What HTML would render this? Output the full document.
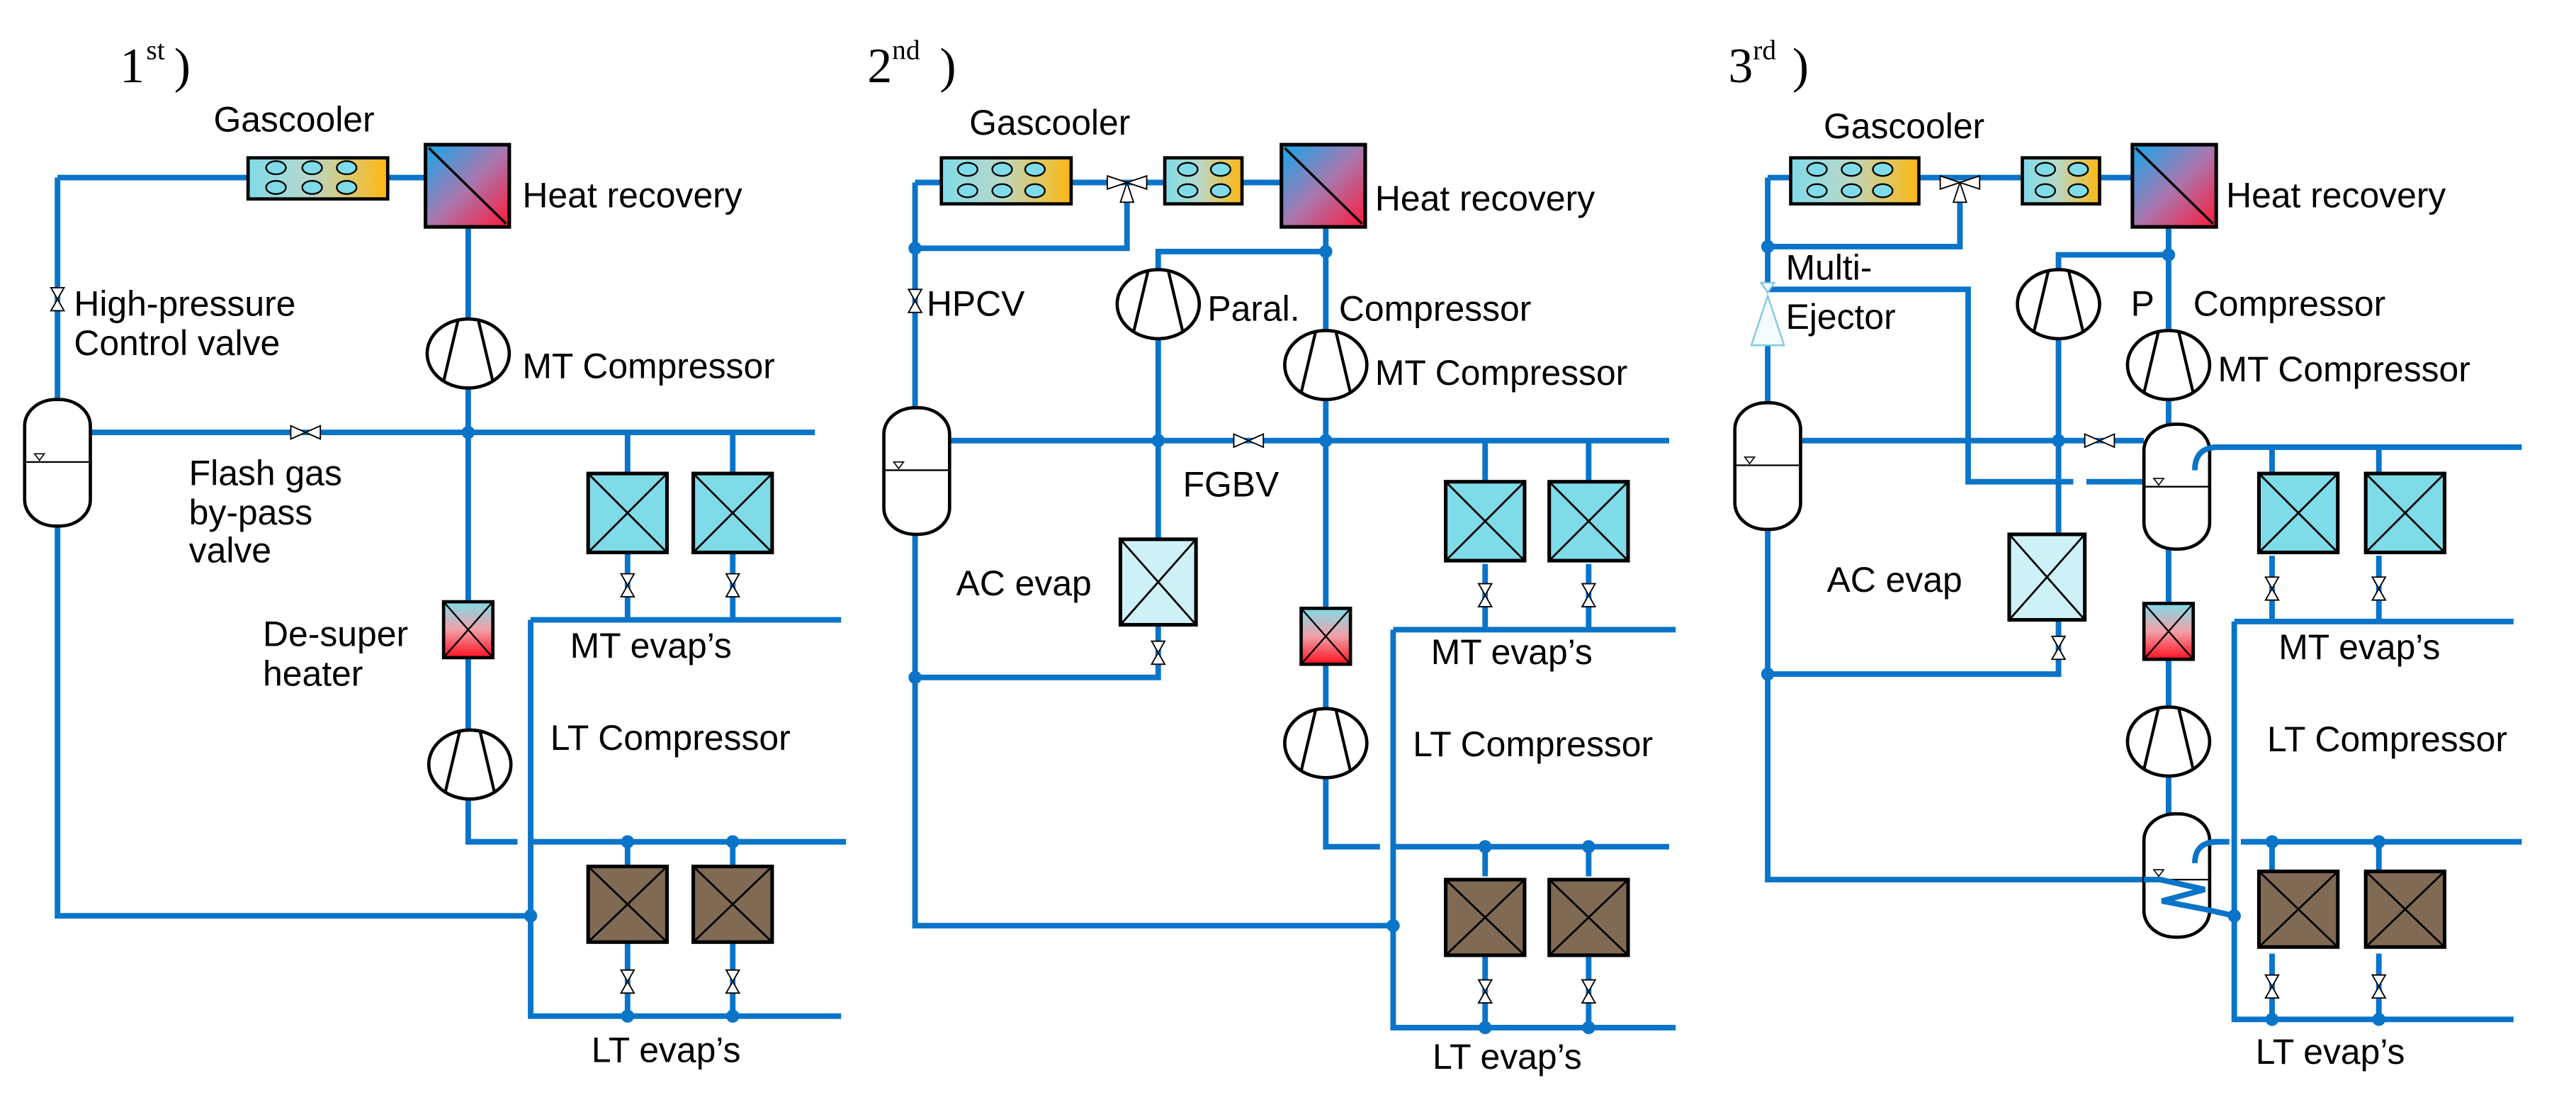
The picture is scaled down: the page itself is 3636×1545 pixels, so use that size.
<!DOCTYPE html>
<html><head><meta charset="utf-8"><style>
html,body{margin:0;padding:0;background:#fff;}
svg{display:block;}
text{font-family:"Liberation Sans",sans-serif;font-size:21.5px;fill:#000;}
.t{font-family:"Liberation Serif",serif;font-size:30px;}
.p{fill:none;stroke:#0a74c9;stroke-width:3.4;}
</style></head><body>
<svg width="3636" height="1545" viewBox="0 0 1568 666" preserveAspectRatio="none" xmlns="http://www.w3.org/2000/svg">
<defs>
<linearGradient id="gc" x1="0" y1="0" x2="1" y2="0"><stop offset="0" stop-color="#7fdbe8"/><stop offset="0.45" stop-color="#b8d8c8"/><stop offset="1" stop-color="#ffb70f"/></linearGradient>
<linearGradient id="hr" x1="0" y1="0" x2="1" y2="1"><stop offset="0" stop-color="#12a8ec"/><stop offset="0.5" stop-color="#a878b0"/><stop offset="1" stop-color="#ff1838"/></linearGradient>
<linearGradient id="ds" x1="0" y1="0" x2="0" y2="1"><stop offset="0" stop-color="#7fdbe8"/><stop offset="0.5" stop-color="#f0a0a8"/><stop offset="1" stop-color="#ff1020"/></linearGradient>
<g id="comp"><ellipse cx="0" cy="0" rx="25" ry="21" fill="#fff" stroke="#000" stroke-width="2"/><path d="M-15,17 L-6,-21 M15,17 L6,-21" stroke="#000" stroke-width="1.8" fill="none"/></g>
<g id="vv"><path d="M-4,-7 L4,-7 L-4,7 L4,7 Z" fill="#fff" stroke="#000" stroke-width="0.8"/></g>
<g id="vh"><path d="M-9,-4 L-9,4 L9,-4 L9,4 Z" fill="#fff" stroke="#000" stroke-width="0.8"/></g>
<g id="rec"><rect x="-20" y="0" width="40" height="77" rx="19" ry="16" fill="#fff" stroke="#000" stroke-width="2"/><line x1="-19" y1="38" x2="19" y2="38" stroke="#000" stroke-width="1"/><path d="M-14,33 L-8,33 L-11,37 Z" fill="#fff" stroke="#000" stroke-width="0.7"/></g>
<g id="mte"><rect x="0" y="0" width="48" height="48" fill="#7fdbe8" stroke="#000" stroke-width="2.2"/><path d="M0,0 L48,48 M48,0 L0,48" stroke="#000" stroke-width="1.2"/></g>
<g id="lte"><rect x="0" y="0" width="48" height="46" fill="#806a54" stroke="#000" stroke-width="2.2"/><path d="M0,0 L48,46 M48,0 L0,46" stroke="#000" stroke-width="1.2"/></g>
<g id="ace"><rect x="0" y="0" width="46" height="52" fill="#cdf1f6" stroke="#000" stroke-width="2.2"/><path d="M0,0 L46,52 M46,0 L0,52" stroke="#000" stroke-width="1.2"/></g>
<g id="dsh"><rect x="0" y="0" width="30" height="34" fill="url(#ds)" stroke="#000" stroke-width="2"/><path d="M0,0 L30,34 M30,0 L0,34" stroke="#000" stroke-width="1"/></g>
<g id="hrx"><rect x="0" y="0" width="51" height="50" fill="url(#hr)" stroke="#000" stroke-width="2.2"/><path d="M2,2 L49,48" stroke="#000" stroke-width="1.5"/></g>
<g id="dot"><circle r="4" fill="#0a74c9"/></g>
<g id="v3"><path d="M-12,-4 L-12,4 L12,-4 L12,4 Z M-4,12 L4,12 L0,0 Z" fill="#fff" stroke="#000" stroke-width="0.8"/></g>
</defs>

<!-- ================= PANEL 1 ================= -->
<text class="t" x="73" y="50">1</text><text class="t" x="89" y="36" style="font-size:17px">st</text><text class="t" x="106" y="50">)</text>
<path class="p" d="M35,108 H151 M236,108 H259 M285,138 V196 M285,234 V365 M285,400 V446 M285,484 V512 H315 M323,512 H515 M35,108 V243 M35,320 V557 H323 M55,263 H496 M382,263 V288 M446,263 V288 M382,336 V377 M446,336 V377 M323,377 H512 M323,377 V618 H512 M382,512 V527 M446,512 V527 M382,573 V618 M446,573 V618"/>
<rect x="151" y="96" width="85" height="25" fill="url(#gc)" stroke="#000" stroke-width="2"/>
<g fill="#7fdbe8" stroke="#000" stroke-width="1"><ellipse cx="168" cy="102" rx="6" ry="4"/><ellipse cx="190" cy="102" rx="6" ry="4"/><ellipse cx="211" cy="102" rx="6" ry="4"/><ellipse cx="168" cy="114" rx="6" ry="4"/><ellipse cx="190" cy="114" rx="6" ry="4"/><ellipse cx="211" cy="114" rx="6" ry="4"/></g>
<use href="#hrx" x="259" y="88"/>
<use href="#comp" x="285" y="215"/><use href="#comp" x="286" y="465"/>
<use href="#dsh" x="270" y="366"/>
<use href="#rec" x="35" y="243"/>
<use href="#vv" x="35" y="182"/><use href="#vh" x="186" y="263"/>
<use href="#mte" x="358" y="288"/><use href="#mte" x="422" y="288"/>
<use href="#lte" x="358" y="527"/><use href="#lte" x="422" y="527"/>
<use href="#vv" x="382" y="356"/><use href="#vv" x="446" y="356"/><use href="#vv" x="382" y="597"/><use href="#vv" x="446" y="597"/>
<use href="#dot" x="285" y="263"/><use href="#dot" x="323" y="557"/><use href="#dot" x="382" y="512"/><use href="#dot" x="446" y="512"/><use href="#dot" x="382" y="618"/><use href="#dot" x="446" y="618"/>
<text x="130" y="80">Gascooler</text>
<text x="318" y="126">Heat recovery</text>
<text x="45" y="192">High-pressure</text><text x="45" y="216">Control valve</text>
<text x="318" y="230">MT Compressor</text>
<text x="115" y="295">Flash gas</text><text x="115" y="319">by-pass</text><text x="115" y="342">valve</text>
<text x="160" y="393">De-super</text><text x="160" y="417">heater</text>
<text x="347" y="400">MT evap’s</text>
<text x="335" y="456">LT Compressor</text>
<text x="360" y="646">LT evap’s</text>

<!-- ================= PANEL 2 ================= -->
<text class="t" x="528" y="50">2</text><text class="t" x="543" y="36" style="font-size:17px">nd</text><text class="t" x="572" y="50">)</text>
<path class="p" d="M557,111 H573 M652,111 H709 M756,111 H780 M557,111 V248 M557,325 V563 H848 M557,151 H686 V120 M578,268 H1016 M705,204 V328 M705,380 V412 H557 M705,166 V153 H807 M807,136 V203 M807,241 V370 M807,404 V433 M807,471 V515 H840 M848,515 H1016 M848,383 H1020 M848,383 V625 H1020 M904,268 V293 M967,268 V293 M904,343 V383 M967,343 V383 M904,515 V533 M967,515 V533 M904,582 V625 M967,582 V625"/>
<rect x="573" y="96" width="79" height="28" fill="url(#gc)" stroke="#000" stroke-width="2"/>
<g fill="#7fdbe8" stroke="#000" stroke-width="1"><ellipse cx="589" cy="103" rx="6" ry="4"/><ellipse cx="610" cy="103" rx="6" ry="4"/><ellipse cx="630" cy="103" rx="6" ry="4"/><ellipse cx="589" cy="116" rx="6" ry="4"/><ellipse cx="610" cy="116" rx="6" ry="4"/><ellipse cx="630" cy="116" rx="6" ry="4"/></g>
<rect x="709" y="96" width="47" height="28" fill="url(#gc)" stroke="#000" stroke-width="2"/>
<g fill="#7fdbe8" stroke="#000" stroke-width="1"><ellipse cx="723" cy="103" rx="6" ry="4"/><ellipse cx="743" cy="103" rx="6" ry="4"/><ellipse cx="723" cy="116" rx="6" ry="4"/><ellipse cx="743" cy="116" rx="6" ry="4"/></g>
<use href="#hrx" x="780" y="88"/>
<use href="#v3" x="686" y="111"/>
<use href="#comp" x="705" y="185"/><use href="#comp" x="807" y="222"/><use href="#comp" x="807" y="452"/>
<use href="#dsh" x="792" y="370"/>
<use href="#rec" x="558" y="248"/>
<use href="#ace" x="682" y="328"/>
<use href="#vv" x="557" y="183"/><use href="#vh" x="760" y="268"/><use href="#vv" x="705" y="397"/>
<use href="#mte" x="880" y="293"/><use href="#mte" x="943" y="293"/>
<use href="#lte" x="880" y="535"/><use href="#lte" x="943" y="535"/>
<use href="#vv" x="904" y="362"/><use href="#vv" x="967" y="362"/><use href="#vv" x="904" y="603"/><use href="#vv" x="967" y="603"/>
<use href="#dot" x="557" y="151"/><use href="#dot" x="807" y="153"/><use href="#dot" x="705" y="268"/><use href="#dot" x="807" y="268"/><use href="#dot" x="557" y="412"/><use href="#dot" x="848" y="563"/><use href="#dot" x="904" y="515"/><use href="#dot" x="967" y="515"/><use href="#dot" x="904" y="625"/><use href="#dot" x="967" y="625"/>
<text x="590" y="82">Gascooler</text>
<text x="837" y="128">Heat recovery</text>
<text x="564" y="192">HPCV</text>
<text x="735" y="195">Paral.</text><text x="815" y="195">Compressor</text>
<text x="837" y="234">MT Compressor</text>
<text x="720" y="302">FGBV</text>
<text x="582" y="362">AC evap</text>
<text x="871" y="404">MT evap’s</text>
<text x="860" y="460">LT Compressor</text>
<text x="872" y="650">LT evap’s</text>

<!-- ================= PANEL 3 ================= -->
<text class="t" x="1052" y="50">3</text><text class="t" x="1067" y="36" style="font-size:17px">rd</text><text class="t" x="1091" y="50">)</text>
<path class="p" d="M1076,108 H1090 M1168,108 H1231 M1278,108 H1300 M1076,108 V176 M1076,210 V245 M1076,322 V535 H1315 M1076,150 H1193 V118 M1076,176 H1198 V293 H1262 M1270,293 H1305 M1096,268 H1305 M1253,204 V325 M1253,375 V410 H1076 M1253,166 V155 H1320 M1320,136 V203 M1320,241 V258 M1320,333 V367 M1320,400 V432 M1320,470 V495 M1336,286 Q1336,272 1350,272 H1535 M1360,378 H1530 M1360,378 V620 H1530 M1336,525 Q1336,512 1350,512 H1357 M1364,512 H1535 M1383,272 V288 M1448,272 V288 M1383,338 V378 M1448,338 V378 M1383,512 V530 M1448,512 V530 M1383,580 V620 M1448,580 V620"/>
<rect x="1090" y="96" width="78" height="28" fill="url(#gc)" stroke="#000" stroke-width="2"/>
<g fill="#7fdbe8" stroke="#000" stroke-width="1"><ellipse cx="1106" cy="103" rx="6" ry="4"/><ellipse cx="1127" cy="103" rx="6" ry="4"/><ellipse cx="1146" cy="103" rx="6" ry="4"/><ellipse cx="1106" cy="116" rx="6" ry="4"/><ellipse cx="1127" cy="116" rx="6" ry="4"/><ellipse cx="1146" cy="116" rx="6" ry="4"/></g>
<rect x="1231" y="96" width="47" height="28" fill="url(#gc)" stroke="#000" stroke-width="2"/>
<g fill="#7fdbe8" stroke="#000" stroke-width="1"><ellipse cx="1245" cy="103" rx="6" ry="4"/><ellipse cx="1265" cy="103" rx="6" ry="4"/><ellipse cx="1245" cy="116" rx="6" ry="4"/><ellipse cx="1265" cy="116" rx="6" ry="4"/></g>
<use href="#hrx" x="1298" y="88"/>
<use href="#v3" x="1193" y="111"/>
<path d="M1072,172 L1080,172 L1076,178 Z M1076,180 L1066,210 L1086,210 Z" fill="#f4fbfd" stroke="#7fc8e0" stroke-width="1"/>
<use href="#comp" x="1253" y="185"/><use href="#comp" x="1320" y="222"/><use href="#comp" x="1320" y="451"/>
<use href="#dsh" x="1305" y="367"/>
<use href="#rec" x="1076" y="245"/>
<g><rect x="1305" y="258" width="40" height="76" rx="19" ry="16" fill="#fff" stroke="#000" stroke-width="2"/><line x1="1306" y1="296" x2="1344" y2="296" stroke="#000" stroke-width="1"/><path d="M1311,291 L1317,291 L1314,295 Z" fill="#fff" stroke="#000" stroke-width="0.7"/></g>
<path class="p" d="M1336,286 Q1336,272 1350,272"/>
<g><rect x="1305" y="495" width="40" height="75" rx="19" ry="16" fill="#fff" stroke="#000" stroke-width="2"/><line x1="1306" y1="535" x2="1344" y2="535" stroke="#000" stroke-width="1"/><path d="M1311,529 L1317,529 L1314,533 Z" fill="#fff" stroke="#000" stroke-width="0.7"/></g>
<path class="p" d="M1336,525 Q1336,512 1350,512 M1305,535 H1315 L1342,541 L1316,548 L1342,553 L1360,557"/>
<use href="#ace" x="1223" y="325"/>
<use href="#vh" x="1278" y="268"/><use href="#vv" x="1253" y="394"/>
<use href="#mte" x="1375" y="288"/><use href="#mte" x="1440" y="288"/>
<use href="#lte" x="1375" y="530"/><use href="#lte" x="1440" y="530"/>
<use href="#vv" x="1383" y="358"/><use href="#vv" x="1448" y="358"/><use href="#vv" x="1383" y="600"/><use href="#vv" x="1448" y="600"/>
<use href="#dot" x="1076" y="150"/><use href="#dot" x="1320" y="155"/><use href="#dot" x="1253" y="268"/><use href="#dot" x="1076" y="410"/><use href="#dot" x="1360" y="557"/><use href="#dot" x="1383" y="512"/><use href="#dot" x="1448" y="512"/><use href="#dot" x="1383" y="620"/><use href="#dot" x="1448" y="620"/>
<text x="1110" y="84">Gascooler</text>
<text x="1355" y="126">Heat recovery</text>
<text x="1087" y="170">Multi-</text><text x="1087" y="200">Ejector</text>
<text x="1297" y="192">P</text><text x="1335" y="192">Compressor</text>
<text x="1350" y="232">MT Compressor</text>
<text x="1112" y="360">AC evap</text>
<text x="1387" y="401">MT evap’s</text>
<text x="1380" y="457">LT Compressor</text>
<text x="1373" y="647">LT evap’s</text>
</svg>
</body></html>
